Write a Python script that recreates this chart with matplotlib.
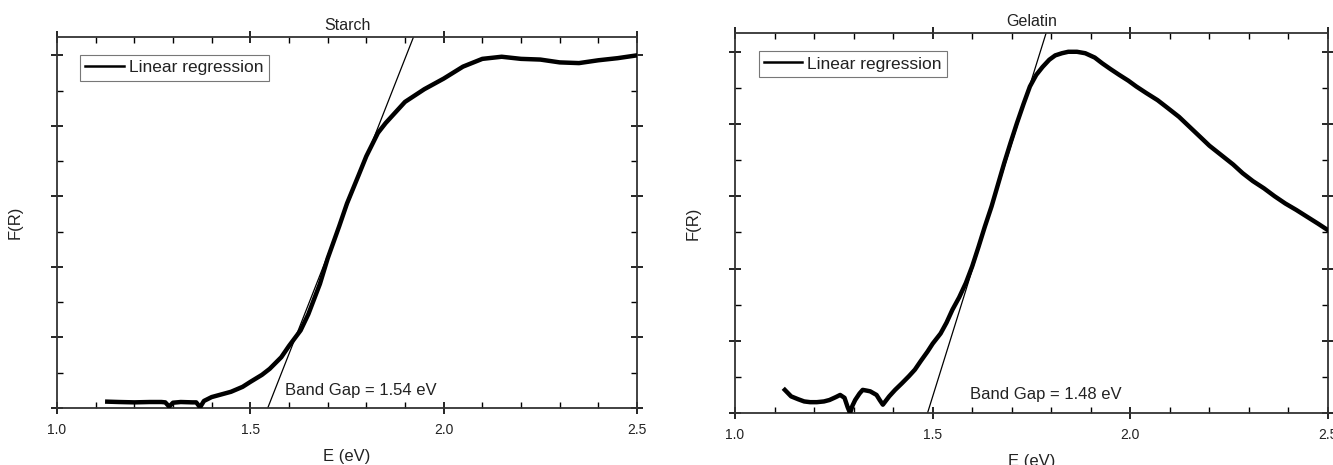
import numpy as np
import matplotlib.pyplot as plt
from matplotlib.ticker import MultipleLocator, NullFormatter

plt.rcParams['font.family'] = ['Liberation Sans', 'DejaVu Sans']

# values (F(R) in units of y major ticks)
starch_E = [1.13, 1.16, 1.20, 1.24, 1.27, 1.28, 1.29, 1.30, 1.32, 1.35, 1.36, 1.37, 1.38,
            1.40, 1.43, 1.45, 1.48, 1.50, 1.53, 1.55, 1.58, 1.60, 1.63, 1.65, 1.68, 1.70,
            1.73, 1.75, 1.78, 1.80, 1.83, 1.85, 1.88, 1.90, 1.95, 2.00, 2.05, 2.10, 2.15,
            2.20, 2.25, 2.30, 2.35, 2.40, 2.45, 2.50]
starch_F = [0.09, 0.085, 0.08, 0.085, 0.085, 0.08, 0.02, 0.075, 0.085, 0.08, 0.08, 0.01, 0.10,
            0.155, 0.20, 0.23, 0.30, 0.37, 0.47, 0.555, 0.72, 0.88, 1.10, 1.33, 1.76, 2.12,
            2.58, 2.90, 3.30, 3.57, 3.90, 4.04, 4.22, 4.34, 4.52, 4.67, 4.84, 4.95, 4.98,
            4.95, 4.94, 4.90, 4.89, 4.93, 4.96, 5.00]

gelatin_E = [1.126, 1.142, 1.16, 1.175, 1.19, 1.207, 1.225, 1.239, 1.255, 1.266, 1.277,
             1.285, 1.291, 1.297, 1.304, 1.315, 1.323, 1.333, 1.342, 1.358, 1.366, 1.374,
             1.39, 1.405, 1.422, 1.44, 1.455, 1.47, 1.487, 1.50, 1.52, 1.535, 1.55, 1.567,
             1.584, 1.60, 1.616, 1.632, 1.649, 1.665, 1.681, 1.697, 1.713, 1.73, 1.746,
             1.762, 1.778, 1.795, 1.81, 1.827, 1.843, 1.865, 1.886, 1.91, 1.929, 1.95,
             1.972, 1.995, 2.015, 2.04, 2.069, 2.095, 2.123, 2.15, 2.177, 2.20, 2.23,
             2.26, 2.284, 2.31, 2.338, 2.365, 2.392, 2.42, 2.446, 2.475, 2.50]
gelatin_F = [0.32, 0.23, 0.19, 0.16, 0.15, 0.15, 0.16, 0.18, 0.22, 0.25, 0.21,
             0.08, 0.0, 0.10, 0.18, 0.27, 0.32, 0.31, 0.30, 0.25, 0.18, 0.115,
             0.23, 0.32, 0.41, 0.51, 0.60, 0.72, 0.85, 0.96, 1.10, 1.25, 1.43, 1.60,
             1.80, 2.03, 2.30, 2.58, 2.86, 3.16, 3.46, 3.74, 4.01, 4.28, 4.52,
             4.68, 4.79, 4.89, 4.95, 4.98, 5.00, 5.00, 4.98, 4.92, 4.84, 4.76,
             4.68, 4.60, 4.52, 4.43, 4.33, 4.22, 4.10, 3.96, 3.82, 3.70, 3.57,
             3.44, 3.32, 3.21, 3.11, 3.00, 2.90, 2.81, 2.72, 2.62, 2.53]

# linear regression (tangent) lines: intercept on the E axis and top-edge crossing
starch_fit_E = [1.545, 1.922]
gelatin_fit_E = [1.487, 1.787]
y_top = 5.26

panels = [
    ("Starch", starch_E, starch_F, starch_fit_E, "Band Gap = 1.54 eV", (1.59, 0.25),
     [57 / 1333, 1 - 408 / 465, 580 / 1333, 371 / 465]),
    ("Gelatin", gelatin_E, gelatin_F, gelatin_fit_E, "Band Gap = 1.48 eV", (1.595, 0.25),
     [735 / 1333, 1 - 413 / 465, 593 / 1333, 380 / 465]),
]

fig = plt.figure(figsize=(13.33, 4.65), dpi=100)
txt = '#222222'

for title, E, F, fit, note, pos, rect in panels:
    ax = fig.add_axes(rect)
    ax.plot(E, F, color='black', lw=3.2, solid_joinstyle='round', zorder=3)
    ax.plot(fit, [0, y_top], color='black', lw=0.9, label='Linear regression')
    ax.set_xlim(1.0, 2.5)
    ax.set_ylim(0, y_top)
    ax.xaxis.set_major_locator(MultipleLocator(0.5))
    ax.xaxis.set_minor_locator(MultipleLocator(0.1))
    ax.yaxis.set_major_locator(MultipleLocator(1))
    ax.yaxis.set_minor_locator(MultipleLocator(0.5))
    ax.yaxis.set_major_formatter(NullFormatter())
    ax.tick_params(which='major', direction='inout', length=9, width=1.2,
                   top=True, right=True, labelsize=10, labelcolor=txt, pad=6)
    ax.tick_params(which='minor', direction='in', length=4, width=1.0,
                   top=True, right=True)
    for s in ax.spines.values():
        s.set_color('#333333')
        s.set_linewidth(1.3)
    ax.set_title(title, fontsize=11.5, color=txt, pad=5)
    ax.set_xlabel('E (eV)', fontsize=12, color=txt, labelpad=9)
    ax.set_ylabel('F(R)', fontsize=12, color=txt, labelpad=14)
    ax.text(pos[0], pos[1], note, fontsize=12, color=txt, va='center')
    leg = ax.legend(loc='upper left', bbox_to_anchor=(0.025, 0.975), fontsize=12.5,
                    fancybox=False, edgecolor='#555555', handlelength=2.2,
                    handletextpad=0.3, borderpad=0.3, labelcolor=txt)
    leg.get_frame().set_linewidth(0.8)
    leg.get_lines()[0].set_linewidth(1.8)

fig.savefig('out.png', dpi=100)
